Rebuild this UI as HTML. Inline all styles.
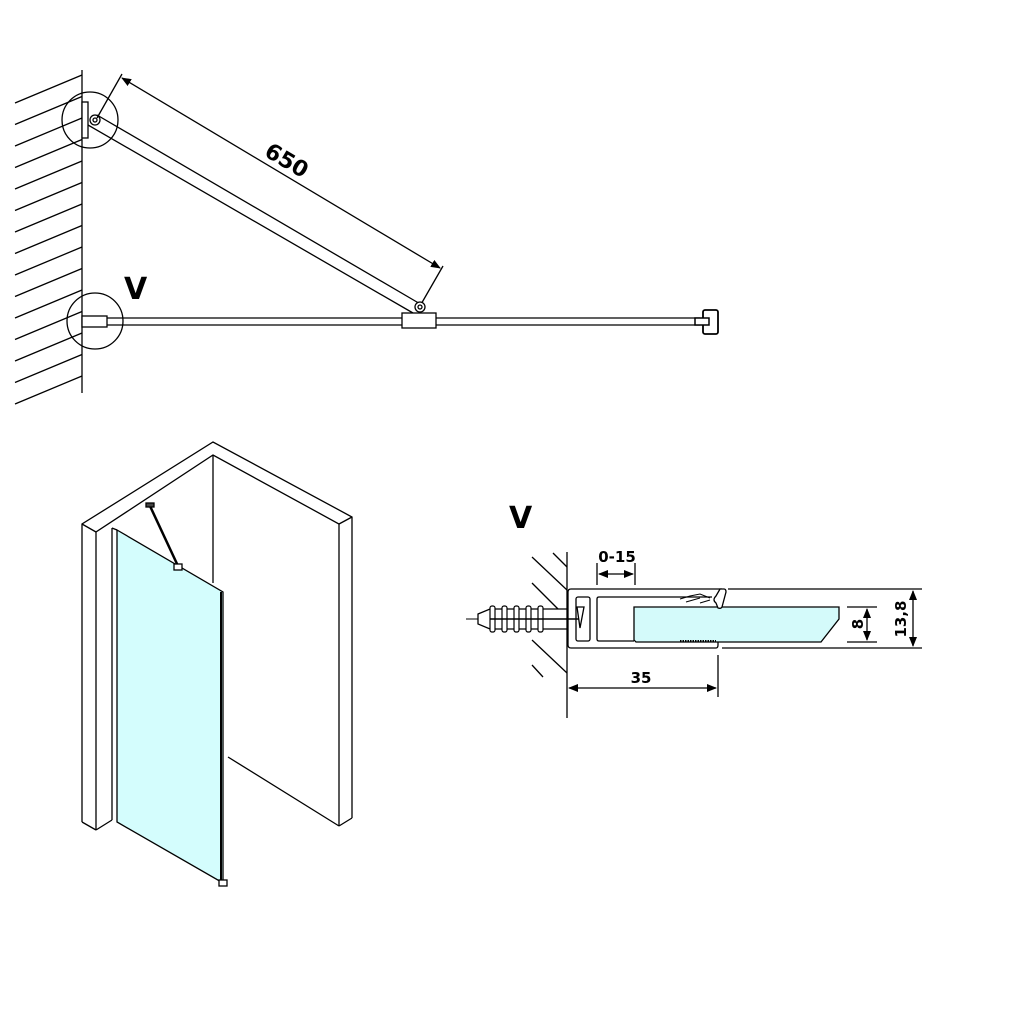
<!DOCTYPE html>
<html><head><meta charset="utf-8"><style>html,body{margin:0;padding:0;background:#fff}svg{display:block}</style></head>
<body>
<svg width="1024" height="1024" viewBox="0 0 1024 1024" xmlns="http://www.w3.org/2000/svg" font-family="'DejaVu Sans','Liberation Sans',sans-serif">
<defs>
<marker id="a" markerWidth="10" markerHeight="8" refX="9" refY="4" orient="auto-start-reverse" markerUnits="userSpaceOnUse"><path d="M0,0 L10,4 L0,8 Z" fill="#000"/></marker>
</defs>
<rect width="1024" height="1024" fill="#fff"/>
<g stroke="#000" stroke-width="1.3" fill="none">
<!-- top diagram wall -->
<line x1="82" y1="70" x2="82" y2="393"/>
<g id="h">
<line x1="15" y1="103" x2="82" y2="75"/><line x1="15" y1="124.5" x2="82" y2="96.5"/><line x1="15" y1="146" x2="82" y2="118"/><line x1="15" y1="167.5" x2="82" y2="139.5"/><line x1="15" y1="189" x2="82" y2="161"/><line x1="15" y1="210.5" x2="82" y2="182.5"/><line x1="15" y1="232" x2="82" y2="204"/><line x1="15" y1="253.5" x2="82" y2="225.5"/><line x1="15" y1="275" x2="82" y2="247"/><line x1="15" y1="296.5" x2="82" y2="268.5"/><line x1="15" y1="318" x2="82" y2="290"/><line x1="15" y1="339.5" x2="82" y2="311.5"/><line x1="15" y1="361" x2="82" y2="333"/><line x1="15" y1="382.5" x2="82" y2="354.5"/><line x1="15" y1="404" x2="82" y2="376"/>
</g>
<rect x="82" y="102" width="6" height="36" fill="#fff"/>
<circle cx="90" cy="120" r="28"/>
<line x1="97" y1="115" x2="422" y2="305"/>
<line x1="88" y1="125" x2="413" y2="313"/>
<circle cx="95" cy="120" r="5" fill="#fff"/><circle cx="95" cy="120" r="2"/>
<line x1="122" y1="74" x2="97" y2="118"/>
<line x1="443" y1="266" x2="420" y2="306"/>
<line x1="122" y1="78" x2="440" y2="268" marker-start="url(#a)" marker-end="url(#a)"/>
<line x1="82" y1="318" x2="700" y2="318"/>
<line x1="82" y1="325" x2="700" y2="325"/>
<rect x="82" y="316" width="25" height="11" fill="#fff"/>
<circle cx="95" cy="321" r="28"/>
<rect x="402" y="313" width="34" height="15" fill="#fff"/>
<circle cx="420" cy="307" r="5" fill="#fff"/><circle cx="420" cy="307" r="2"/>
<rect x="703" y="310" width="15" height="24" rx="2" fill="#fff" stroke-width="1.8"/>
<rect x="695" y="318" width="14" height="7" fill="#fff" stroke-width="1.5"/>
<!-- isometric -->
<polyline points="82,822 82,524 213,442 352,517 352,818"/>
<polyline points="96,830 96,532 213,455 339,524 339,826"/>
<line x1="82" y1="822" x2="96" y2="830"/>
<line x1="339" y1="826" x2="352" y2="818"/>
<line x1="82" y1="524" x2="96" y2="532"/>
<line x1="339" y1="524" x2="352" y2="517"/>
<line x1="213" y1="455" x2="213" y2="583"/>
<line x1="228" y1="757" x2="339" y2="826"/>
<line x1="112" y1="528" x2="112" y2="820"/>
<line x1="96" y1="830" x2="112" y2="820"/>
<polygon points="117,530 223,592 223,883 117,822" fill="#d4fdfd"/>
<line x1="112" y1="528" x2="117" y2="530"/>
<line x1="221" y1="592" x2="221" y2="883" stroke-width="2"/>
<line x1="150" y1="506" x2="178" y2="566" stroke-width="2.5"/>
<line x1="152" y1="505" x2="180" y2="565" stroke="#fff" stroke-width="0.8"/>
<rect x="146" y="503" width="8" height="4" fill="#444"/>
<rect x="174" y="564" width="8" height="6" fill="#fff"/>
<rect x="219" y="880" width="8" height="6" fill="#fff"/>
<!-- detail V -->
<line x1="567" y1="552" x2="567" y2="718"/>
<line x1="553" y1="553" x2="567" y2="567"/>
<line x1="532" y1="557" x2="567" y2="590"/>
<line x1="532" y1="583" x2="567" y2="618"/>
<line x1="532" y1="640" x2="567" y2="673"/>
<line x1="532" y1="665" x2="543" y2="677"/>
<path d="M722,589 H571 Q568,589 568,592 V645 Q568,648 571,648 H716 Q718,648 718,645 V640"/>
<line x1="728" y1="589" x2="922" y2="589"/>
<line x1="722" y1="648" x2="922" y2="648"/>
<rect x="576" y="597" width="14" height="44" rx="2"/>
<path d="M712,597 H599 Q597,597 597,599 V639 Q597,641 599,641 H634"/>
<polygon points="634,607 839,607 839,619 821,642 636,642 634,640" fill="#d4fafa"/>
<path d="M720,589 L724,589 Q726,589 726,592 L722,607 Q721,609 718,608 L716,603 Q712,600 716,596 Z" fill="#fff"/>
<path d="M680,599 L690,596 L700,594 L710,598 M686,602 L700,598 M700,603 L710,600" stroke-width="1"/>
<line x1="680" y1="641" x2="716" y2="641" stroke-width="2" stroke-dasharray="1.5,1"/>
<line x1="847" y1="607" x2="877" y2="607"/>
<line x1="847" y1="642" x2="877" y2="642"/>
<line x1="867" y1="609" x2="867" y2="640" marker-start="url(#a)" marker-end="url(#a)"/>
<line x1="913" y1="591" x2="913" y2="646" marker-start="url(#a)" marker-end="url(#a)"/>
<line x1="718" y1="655" x2="718" y2="697"/>
<line x1="569" y1="688" x2="716" y2="688" marker-start="url(#a)" marker-end="url(#a)"/>
<line x1="597" y1="563" x2="597" y2="585"/>
<line x1="635" y1="563" x2="635" y2="585"/>
<line x1="599" y1="574" x2="633" y2="574" marker-start="url(#a)" marker-end="url(#a)"/>
<line x1="466" y1="619" x2="582" y2="619" stroke-width="1"/>
<path d="M478,614 L490,609 L567,609 L567,629 L490,629 L478,624 Z" fill="#fff"/>
<g stroke-width="1.2"><rect x="490" y="606" width="5" height="26" rx="2" fill="#fff"/><rect x="502" y="606" width="5" height="26" rx="2" fill="#fff"/><rect x="514" y="606" width="5" height="26" rx="2" fill="#fff"/><rect x="526" y="606" width="5" height="26" rx="2" fill="#fff"/><rect x="538" y="606" width="5" height="26" rx="2" fill="#fff"/></g>
<line x1="490" y1="619" x2="580" y2="619" stroke-width="1.5"/>
<polygon points="577,607 584,607 580,628" fill="#fff"/>
</g>
<g font-weight="bold" fill="#000">
<text x="287" y="168" font-size="22" text-anchor="middle" transform="rotate(30.5 287 160)">650</text>
<text x="124" y="299" font-size="30">V</text>
<text x="509" y="528" font-size="30">V</text>
<text x="617" y="562" font-size="15" text-anchor="middle">0-15</text>
<text x="641" y="683" font-size="15" text-anchor="middle">35</text>
<text x="858" y="629" font-size="15" text-anchor="middle" transform="rotate(-90 858 624)">8</text>
<text x="901" y="624" font-size="15" text-anchor="middle" transform="rotate(-90 901 619)">13,8</text>
</g>
</svg>
</body></html>
